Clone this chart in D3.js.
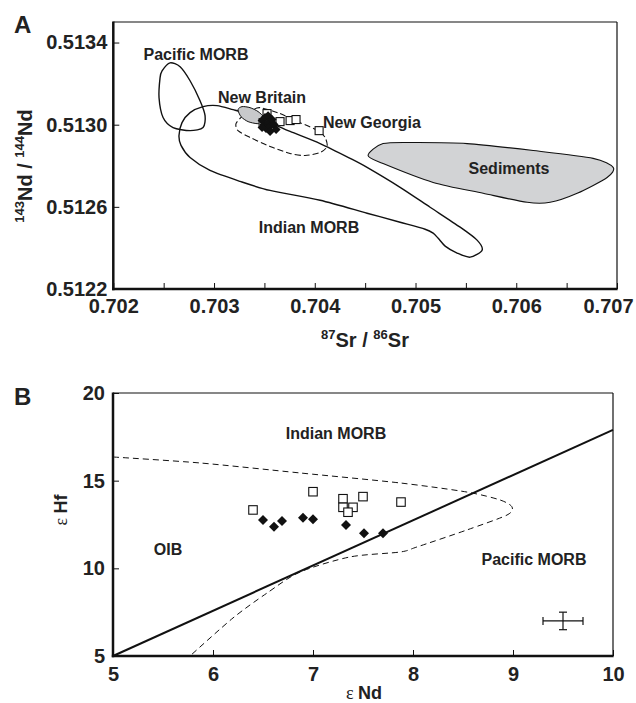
<!DOCTYPE html>
<html lang="en">
<head>
<meta charset="utf-8">
<script src="https://d3js.org/d3.v7.min.js"></script>
<style>
  body { margin: 0; background: #fff; }
  svg text { font-family: "Liberation Sans", Arial, sans-serif; font-weight: bold; fill: #222; }
  .eps { font-family: "Liberation Serif", "DejaVu Serif", serif; font-weight: normal; }
</style>
</head>
<body>
<svg id="chart"></svg>
<script>
// ---------- panel A data: 87Sr/86Sr vs 143Nd/144Nd ----------
var srTicks = [0.702, 0.703, 0.704, 0.705, 0.706, 0.707];
var srMinor = [0.7025, 0.7035, 0.7045, 0.7055, 0.7065];
var ndTicks = [0.5122, 0.5126, 0.5130, 0.5134];

var pacificMorbA = [[0.702563,0.513301],[0.702484,0.513262],[0.702464,0.513228],[0.702454,0.513131],
  [0.702494,0.513035],[0.702593,0.512986],[0.702762,0.512971],[0.702891,0.512986],[0.702911,0.513044],
  [0.702861,0.513117],[0.702762,0.513214],[0.702663,0.513282]];

var indianMorbA = [[0.702652,0.512947],[0.702682,0.513010],[0.702762,0.513059],[0.702891,0.513088],
  [0.703030,0.513093],[0.703189,0.513073],[0.703357,0.513049],[0.703556,0.513010],[0.703755,0.512967],
  [0.704053,0.512908],[0.704351,0.512836],[0.704519,0.512792],[0.704847,0.512695],[0.705145,0.512598],
  [0.705443,0.512501],[0.705611,0.512438],[0.705661,0.512389],[0.705542,0.512355],[0.705413,0.512375],
  [0.705294,0.512409],[0.705225,0.512447],[0.705175,0.512472],[0.705095,0.512491],[0.704847,0.512525],
  [0.704519,0.512569],[0.704053,0.512632],[0.703556,0.512680],[0.703258,0.512724],[0.702960,0.512777],
  [0.702762,0.512840],[0.702672,0.512899]];

var newGeorgiaField = [[0.703457,0.513083],[0.703655,0.513054],[0.703854,0.513010],[0.704033,0.512971],
  [0.704102,0.512938],[0.704122,0.512894],[0.704053,0.512865],[0.703904,0.512850],[0.703755,0.512860],
  [0.703556,0.512894],[0.703357,0.512938],[0.703238,0.512971],[0.703218,0.513005],[0.703278,0.513039],
  [0.703377,0.513069]];

var newBritainField = [[0.703238,0.513073],[0.703278,0.513088],[0.703357,0.513083],[0.703437,0.513064],
  [0.703496,0.513035],[0.703487,0.513010],[0.703427,0.513005],[0.703338,0.513015],[0.703268,0.513039]];

var sedimentsField = [[0.704529,0.512850],[0.704678,0.512908],[0.705016,0.512913],[0.705512,0.512908],
  [0.706168,0.512874],[0.706763,0.512836],[0.706962,0.512792],[0.706902,0.512743],[0.706605,0.512666],
  [0.706336,0.512622],[0.706108,0.512622],[0.705671,0.512666],[0.705175,0.512719],[0.704678,0.512811]];

var squaresA = [[0.703526,0.513054],[0.703487,0.513010],[0.703655,0.513015],[0.703755,0.513020],
  [0.703814,0.513025],[0.704043,0.512971]];

var diamondsA = [[0.703477,0.513020],[0.703506,0.513035],[0.703536,0.513044],[0.703496,0.513001],
  [0.703536,0.513010],[0.703576,0.513025],[0.703516,0.512981],[0.703556,0.512991],[0.703596,0.513001],
  [0.703477,0.512986],[0.703616,0.512976],[0.703556,0.512967]];

// ---------- panel B data: eNd vs eHf ----------
var endTicks = [5, 6, 7, 8, 9, 10];
var ehfTicks = [5, 10, 15, 20];

var arrayLine = [[5, 5], [10, 17.9]];

var indianField = [[5.00,16.35],[5.87,16.01],[6.87,15.44],[7.87,14.87],[8.54,14.35],[8.87,13.90],
  [8.99,13.50],[8.94,13.04],[8.54,12.19],[8.04,11.22],[7.87,10.93],[7.37,10.65],[6.87,9.79],
  [6.54,8.59],[6.20,7.17],[5.77,5.00]];

var squaresB = [[6.40,13.33],[7.00,14.37],[7.30,13.97],[7.30,13.48],[7.40,13.48],[7.35,13.20],
  [7.50,14.09],[7.88,13.78]];

var diamondsB = [[6.50,12.76],[6.61,12.37],[6.69,12.70],[6.90,12.89],[7.00,12.80],[7.33,12.47],
  [7.51,12.00],[7.70,12.00]];

var errorBar = { x: 9.5, y: 7.0, dx: 0.2, dy: 0.5 };

// ---------- drawing ----------
var width = 636, height = 703;
var svg = d3.select("#chart").attr("width", width).attr("height", height);

function frame(g, x0, x1, y0, y1) {
    g.append("line").attr("x1", x0).attr("x2", x1).attr("y1", y0).attr("y2", y0)
        .attr("stroke", "#111").attr("stroke-width", 1.2);
    g.append("line").attr("x1", x1).attr("x2", x1).attr("y1", y0).attr("y2", y1)
        .attr("stroke", "#111").attr("stroke-width", 1.2);
    g.append("line").attr("x1", x0).attr("x2", x0).attr("y1", y0 - 0.6).attr("y2", y1 + 1.2)
        .attr("stroke", "#111").attr("stroke-width", 2.5);
    g.append("line").attr("x1", x0 - 1.2).attr("x2", x1 + 0.6).attr("y1", y1).attr("y2", y1)
        .attr("stroke", "#111").attr("stroke-width", 2.5);
}

function styleAxis(g) {
    g.select(".domain").remove();
    g.selectAll(".tick line").attr("stroke", "#111").attr("stroke-width", 1);
    g.selectAll(".tick text").attr("fill", "#222").style("font-size", "20px")
        .style("font-family", '"Liberation Sans", Arial, sans-serif').style("font-weight", "bold");
}

function squares(g, pts, x, y, s) {
    g.selectAll(null).data(pts).join("rect")
        .attr("x", function(d) { return x(d[0]) - s / 2; })
        .attr("y", function(d) { return y(d[1]) - s / 2; })
        .attr("width", s).attr("height", s)
        .attr("fill", "#fff").attr("stroke", "#111").attr("stroke-width", 1.1);
}

function diamonds(g, pts, x, y, r) {
    g.selectAll(null).data(pts).join("path")
        .attr("d", function(d) {
            var cx = x(d[0]), cy = y(d[1]);
            return "M" + cx + "," + (cy - r) + "L" + (cx + r) + "," + cy + "L" + cx + "," + (cy + r) + "L" + (cx - r) + "," + cy + "Z";
        })
        .attr("fill", "#111");
}

function label(g, txt, x, y, anchor, size) {
    g.append("text").attr("x", x).attr("y", y).attr("text-anchor", anchor || "middle")
        .style("font-size", (size || 16) + "px").text(txt);
}

// ----- Panel A -----
var xA = d3.scaleLinear().domain([0.702, 0.707]).range([113.3, 617]);
var yA = d3.scaleLinear().domain([0.5122, 0.51350]).range([289, 22]);
var gA = svg.append("g");

var closedA = d3.line().x(function(d) { return xA(d[0]); }).y(function(d) { return yA(d[1]); })
    .curve(d3.curveCardinalClosed.tension(0.2));

gA.append("path").attr("d", closedA(sedimentsField)).attr("fill", "#d2d3d5").attr("stroke", "#111").attr("stroke-width", 1.1);
gA.append("path").attr("d", closedA(pacificMorbA)).attr("fill", "none").attr("stroke", "#111").attr("stroke-width", 1.4);
gA.append("path").attr("d", closedA(indianMorbA)).attr("fill", "none").attr("stroke", "#111").attr("stroke-width", 1.4);
gA.append("path").attr("d", closedA(newGeorgiaField)).attr("fill", "none").attr("stroke", "#111")
    .attr("stroke-width", 1.1).attr("stroke-dasharray", "6,3");
gA.append("path").attr("d", closedA(newBritainField)).attr("fill", "#c8c9cb").attr("stroke", "#111").attr("stroke-width", 1);

squares(gA, squaresA, xA, yA, 8);
diamonds(gA, diamondsA, xA, yA, 4.5);

var axA = gA.append("g").attr("transform", "translate(0,289)")
    .call(d3.axisBottom(xA).tickValues(srTicks).tickSize(-6).tickPadding(10).tickFormat(d3.format(".3f")))
    .call(styleAxis);
// keep the last label inside the page
axA.selectAll(".tick text").filter(function(d) { return d === 0.707; }).attr("dx", -9);
gA.append("g").attr("transform", "translate(0,289)")
    .call(d3.axisBottom(xA).tickValues(srMinor).tickSize(-6).tickFormat(""))
    .call(styleAxis);
gA.append("g").attr("transform", "translate(113.3,0)")
    .call(d3.axisLeft(yA).tickValues(ndTicks).tickSize(-6).tickPadding(6).tickFormat(d3.format(".4f")))
    .call(styleAxis);

frame(gA, 113.3, 617, 22, 289);

label(gA, "Pacific MORB", 196, 60);
label(gA, "New Britain", 262, 103);
label(gA, "New Georgia", 323, 128, "start");
label(gA, "Sediments", 509, 174);
label(gA, "Indian MORB", 309, 233);

var xtA = gA.append("text").attr("x", 365).attr("y", 347).attr("text-anchor", "middle").style("font-size", "20px");
xtA.append("tspan").text("87").style("font-size", "13px").attr("dy", -8);
xtA.append("tspan").text("Sr / ").attr("dy", 8);
xtA.append("tspan").text("86").style("font-size", "13px").attr("dy", -8);
xtA.append("tspan").text("Sr").attr("dy", 8);

var ytA = gA.append("text").attr("transform", "translate(32,166) rotate(-90)").attr("text-anchor", "middle").style("font-size", "20px");
ytA.append("tspan").text("143").style("font-size", "13px").attr("dy", -8);
ytA.append("tspan").text("Nd / ").attr("dy", 8);
ytA.append("tspan").text("144").style("font-size", "13px").attr("dy", -8);
ytA.append("tspan").text("Nd").attr("dy", 8);

label(gA, "A", 14, 33, "start", 24);

// ----- Panel B -----
var xB = d3.scaleLinear().domain([5, 10]).range([113, 613]);
var yB = d3.scaleLinear().domain([5, 20]).range([656, 393]);
var gB = svg.append("g");

var lineB = d3.line().x(function(d) { return xB(d[0]); }).y(function(d) { return yB(d[1]); });

gB.append("path").attr("d", lineB.curve(d3.curveCardinal.tension(0.2))(indianField))
    .attr("fill", "none").attr("stroke", "#111").attr("stroke-width", 1).attr("stroke-dasharray", "6,4");
gB.append("path").attr("d", lineB.curve(d3.curveLinear)(arrayLine))
    .attr("fill", "none").attr("stroke", "#111").attr("stroke-width", 2);

squares(gB, squaresB, xB, yB, 8.5);
diamonds(gB, diamondsB, xB, yB, 5);

// error bar
var eb = gB.append("g").attr("stroke", "#111").attr("stroke-width", 1.2);
eb.append("line").attr("x1", xB(errorBar.x - errorBar.dx)).attr("x2", xB(errorBar.x + errorBar.dx))
    .attr("y1", yB(errorBar.y)).attr("y2", yB(errorBar.y));
eb.append("line").attr("x1", xB(errorBar.x)).attr("x2", xB(errorBar.x))
    .attr("y1", yB(errorBar.y - errorBar.dy)).attr("y2", yB(errorBar.y + errorBar.dy));
[errorBar.x - errorBar.dx, errorBar.x + errorBar.dx].forEach(function(v) {
    eb.append("line").attr("x1", xB(v)).attr("x2", xB(v)).attr("y1", yB(errorBar.y) - 4).attr("y2", yB(errorBar.y) + 4);
});
[errorBar.y - errorBar.dy, errorBar.y + errorBar.dy].forEach(function(v) {
    eb.append("line").attr("x1", xB(errorBar.x) - 4).attr("x2", xB(errorBar.x) + 4).attr("y1", yB(v)).attr("y2", yB(v));
});

gB.append("g").attr("transform", "translate(0,656)")
    .call(d3.axisBottom(xB).tickValues(endTicks).tickSize(-6).tickPadding(11).tickFormat(d3.format("d")))
    .call(styleAxis);
gB.append("g").attr("transform", "translate(113,0)")
    .call(d3.axisLeft(yB).tickValues(ehfTicks).tickSize(-6).tickPadding(8).tickFormat(d3.format("d")))
    .call(styleAxis);

frame(gB, 113, 613, 393, 656);

label(gB, "Indian MORB", 336, 439);
label(gB, "OIB", 168, 555);
label(gB, "Pacific MORB", 534, 565);

var xtB = gB.append("text").attr("x", 364).attr("y", 699).attr("text-anchor", "middle").style("font-size", "18px");
xtB.append("tspan").attr("class", "eps").text("\u03b5 ");
xtB.append("tspan").text("Nd");

var ytB = gB.append("text").attr("transform", "translate(67,510) rotate(-90)").attr("text-anchor", "middle").style("font-size", "18px");
ytB.append("tspan").attr("class", "eps").text("\u03b5 ");
ytB.append("tspan").text("Hf");

label(gB, "B", 14, 405, "start", 24);
</script>
</body>
</html>
